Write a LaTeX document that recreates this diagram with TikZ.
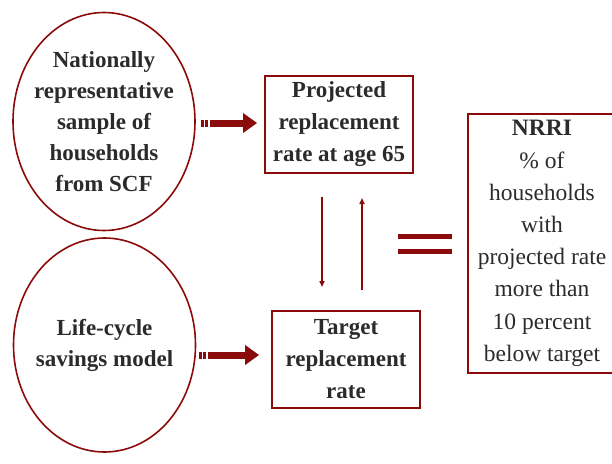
\documentclass[tikz,border=0pt]{standalone}
\usepackage{fontspec}
\setmainfont{Liberation Serif}
\usetikzlibrary{shapes.geometric,arrows.meta,positioning}
\definecolor{wine}{HTML}{8B0A0A}
\definecolor{ink}{HTML}{2B2B2B}
\tikzset{
  oval/.style={draw=wine,line width=1.6pt,ellipse,minimum width=182pt,minimum height=218pt,
    inner xsep=-10pt,inner ysep=-3pt,align=center,text=ink,font=\fontsize{23}{31}\selectfont\bfseries},
  rbox/.style={draw=wine,line width=1.8pt,rectangle,inner sep=0pt,align=center,text=ink,
    font=\fontsize{23}{32}\selectfont\bfseries},
  fat/.style={wine,line width=7pt,-{Triangle[length=14pt,width=19pt]},
    dash pattern=on 2.7pt off 1.3pt on 2.7pt off 2.3pt on 100pt off 0pt},
  thin/.style={wine,line width=1.6pt,-{Triangle[length=6pt,width=5pt]}},
}
\begin{document}
\begin{tikzpicture}[x=1pt,y=-1pt]
  \useasboundingbox (0,0) rectangle (612,463);
  %%
  \node (scf) at (104,121.5) [oval] {Nationally\\representative\\sample of\\households\\from SCF};
  \node (lcm) at (104.5,345) [oval,minimum height=214pt] {Life-cycle\\savings model};
  \node (proj) at (339,124.5) [rbox,minimum width=148pt,minimum height=97pt] {Projected\\replacement\\rate at age 65};
  \node (targ) at (346,359.5) [rbox,minimum width=148pt,minimum height=97pt] {Target\\replacement\\rate};
  \node (nrri) at (542,243.5) [rbox,minimum width=148pt,minimum height=259pt,
    font=\fontsize{23.5}{32.2}\selectfont] {\textbf{NRRI}\\\% of\\households\\with\\projected rate\\more than\\10 percent\\below target};
  \coordinate (dtop) at (322,197);
  \coordinate (dbot) at (322,287);
  \coordinate (ubot) at (362,290);
  \coordinate (utop) at (362,198);
  \coordinate (eqa) at (398,236.5);
  \coordinate (eqb) at (452,236.5);
  \coordinate (eqc) at (398,251.5);
  \coordinate (eqd) at (452,251.5);
  \draw [fat] (scf.east |- 0,123) ++(5,0) -- (proj.west |- 0,123) [shorten >=7pt];
  \draw [fat] (lcm.east |- 0,355) ++(3,0) -- (targ.west |- 0,355) [shorten >=12pt];
  \draw [thin] (dtop) -- (dbot);
  \draw [thin] (ubot) -- (utop);
  \draw [wine,line width=5pt] (eqa) -- (eqb);
  \draw [wine,line width=5pt] (eqc) -- (eqd);
  %
\end{tikzpicture}
\end{document}
